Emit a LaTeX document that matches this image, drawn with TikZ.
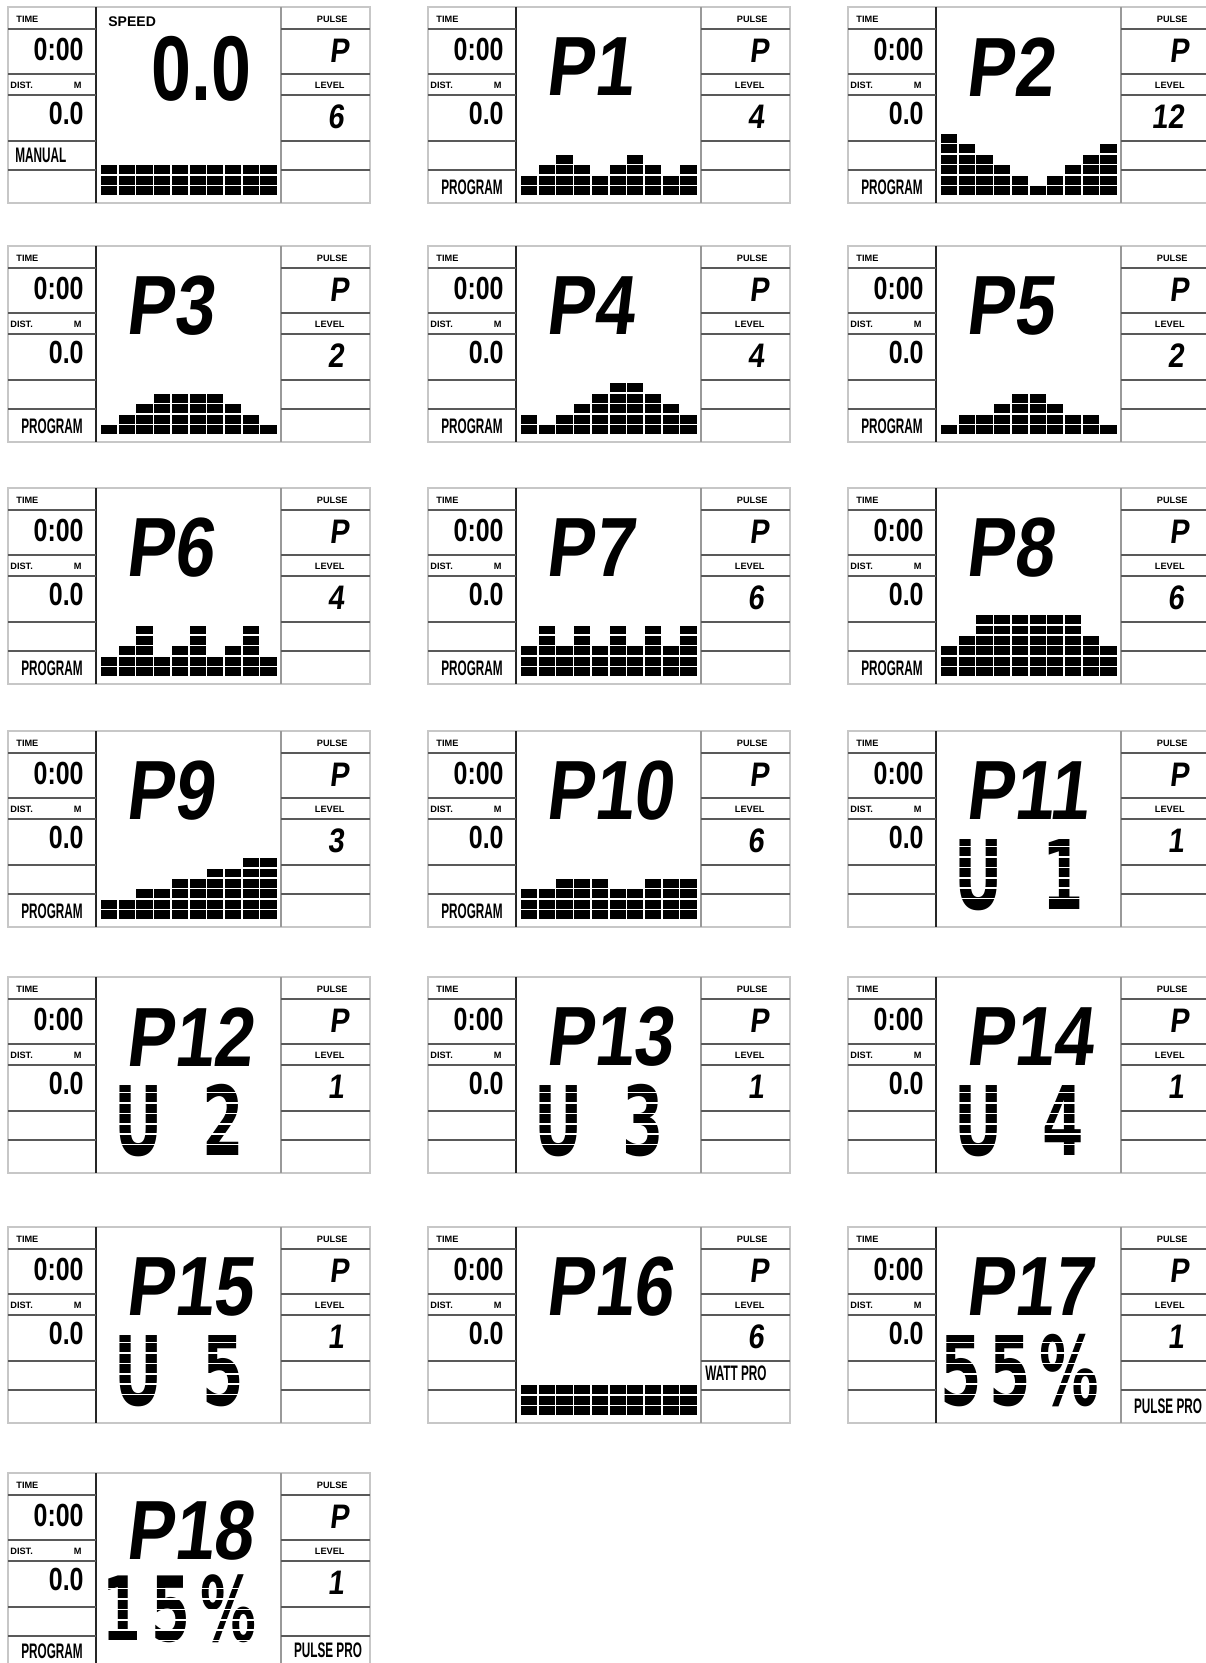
\documentclass[tikz,border=0pt]{standalone}
\usepackage{fontspec}
\usepackage{tikz}
\usetikzlibrary{positioning}

\newfontfamily\etiqfont{Liberation Sans}
\newfontfamily\segfont{Liberation Sans}[FakeStretch=0.78]
\newfontfamily\tagfont{Liberation Sans}[FakeStretch=0.56]
\newfontfamily\lcdfont{Liberation Sans}[FakeSlant=0.12, FakeStretch=0.85]
\newfontfamily\matfont{DejaVu Sans}[FakeStretch=0.62]

% un ecran : #1 nom, #2 x, #3 y, #4 niveau, #5 contenu du milieu
\newcommand{\ecran}[5]{%
  \begin{scope}[shift={(#2,#3)}]
    \draw[cadre] (0,0) rectangle (362,196);
    \draw[sepnoir] (88,0) -- (88,196);
    \draw[sepgris] (273,0) -- (273,196);
    \foreach \h in {22,67,88,134,163}
      \draw[trait] (0,\h) -- (88,\h) (273,\h) -- (362,\h);
    \node[petit, anchor=west] (#1-time) at (8,12) {TIME};
    \node[chiffre, anchor=east] (#1-temps) at (76,42) {0:00};
    \node[petit, anchor=west] (#1-dist) at (2,78) {DIST.};
    \node[petit, anchor=east] (#1-m) at (74,78) {M};
    \node[chiffre, anchor=east] (#1-km) at (76,106) {0.0};
    \node[petit, anchor=east] (#1-pulse) at (340,12) {PULSE};
    \node[lcdpetit, anchor=east] (#1-p) at (341,44) {P};
    \node[petit, anchor=east] (#1-level) at (337,78) {LEVEL};
    \node[lcdpetit, anchor=east] (#1-niveau) at (336,110) {#4};
    #5
  \end{scope}}

% barres du profil, une colonne par valeur
\newcommand{\barres}[1]{%
  \foreach \h [count=\i] in {#1}
    \foreach \j in {1,...,\h}
      \fill[bloc] ({93+(\i-1)*17.7},{188-(\j-1)*10.4}) rectangle ++(16.2,-8.9);}

% lignes blanches de la matrice sur les gros caracteres
\newcommand{\bandes}{%
  \foreach \k in {1,...,6}
    \draw[bande] (92,{178-\k*10.4}) -- (270,{178-\k*10.4});}

\begin{document}
\begin{tikzpicture}[x=0.5pt, y=-0.5pt,
    cadre/.style={draw=black!22, line width=1.2pt},
    sepnoir/.style={draw=black!85, line width=0.8pt},
    sepgris/.style={draw=black!40, line width=0.8pt},
    trait/.style={draw=black!65, line width=0.8pt},
    bloc/.style={fill=black},
    bande/.style={draw=white, line width=0.8pt},
    petit/.style={font=\etiqfont\bfseries\fontsize{4.6}{5}\selectfont, inner sep=0},
    chiffre/.style={font=\segfont\bfseries\fontsize{16}{16}\selectfont, inner sep=0},
    lcd/.style={font=\lcdfont\bfseries\fontsize{42}{42}\selectfont, inner sep=0, anchor=west},
    lcdpetit/.style={font=\lcdfont\bfseries\fontsize{17}{17}\selectfont, inner sep=0},
    mention/.style={font=\tagfont\bfseries\fontsize{10.5}{11}\selectfont, inner sep=0},
    matrice/.style={font=\matfont\bfseries\fontsize{48}{48}\selectfont, inner sep=0, anchor=base west}]
  \useasboundingbox (0,0) rectangle (1205,1663);

  % Rangee 1
  \ecran{man}{8}{7}{6}{%
    \node[petit, font=\etiqfont\bfseries\fontsize{7}{7}\selectfont, anchor=west] (man-speed) at (100,15) {SPEED};
    \node[chiffre, font=\segfont\bfseries\fontsize{46}{46}\selectfont, anchor=east] (man-vitesse) at (244,62) {0.0};
    \node[mention, anchor=west] (man-mode) at (7,148) {MANUAL};
    \barres{3,3,3,3,3,3,3,3,3,3}}
  \ecran{p1}{428}{7}{4}{%
    \node[lcd] (p1-prog) at (117,60) {P1};
    \node[mention] (p1-mode) at (44,180) {PROGRAM};
    \barres{2,3,4,3,2,3,4,3,2,3}}
  \ecran{p2}{848}{7}{12}{%
    \node[lcd] (p2-prog) at (117,60) {P2};
    \node[mention] (p2-mode) at (44,180) {PROGRAM};
    \barres{6,5,4,3,2,1,2,3,4,5}}

  % Rangee 2
  \ecran{p3}{8}{246}{2}{%
    \node[lcd] (p3-prog) at (117,60) {P3};
    \node[mention] (p3-mode) at (44,180) {PROGRAM};
    \barres{1,2,3,4,4,4,4,3,2,1}}
  \ecran{p4}{428}{246}{4}{%
    \node[lcd] (p4-prog) at (117,60) {P4};
    \node[mention] (p4-mode) at (44,180) {PROGRAM};
    \barres{2,1,2,3,4,5,5,4,3,2}}
  \ecran{p5}{848}{246}{2}{%
    \node[lcd] (p5-prog) at (117,60) {P5};
    \node[mention] (p5-mode) at (44,180) {PROGRAM};
    \barres{1,2,2,3,4,4,3,2,2,1}}

  % Rangee 3
  \ecran{p6}{8}{488}{4}{%
    \node[lcd] (p6-prog) at (117,60) {P6};
    \node[mention] (p6-mode) at (44,180) {PROGRAM};
    \barres{2,3,5,2,3,5,2,3,5,2}}
  \ecran{p7}{428}{488}{6}{%
    \node[lcd] (p7-prog) at (117,60) {P7};
    \node[mention] (p7-mode) at (44,180) {PROGRAM};
    \barres{3,5,3,5,3,5,3,5,3,5}}
  \ecran{p8}{848}{488}{6}{%
    \node[lcd] (p8-prog) at (117,60) {P8};
    \node[mention] (p8-mode) at (44,180) {PROGRAM};
    \barres{3,4,6,6,6,6,6,6,4,3}}

  % Rangee 4
  \ecran{p9}{8}{731}{3}{%
    \node[lcd] (p9-prog) at (117,60) {P9};
    \node[mention] (p9-mode) at (44,180) {PROGRAM};
    \barres{2,2,3,3,4,4,5,5,6,6}}
  \ecran{p10}{428}{731}{6}{%
    \node[lcd] (p10-prog) at (117,60) {P10};
    \node[mention] (p10-mode) at (44,180) {PROGRAM};
    \barres{3,3,4,4,4,3,3,4,4,4}}
  \ecran{p11}{848}{731}{1}{%
    \node[lcd] (p11-prog) at (117,60) {P11};
    \node[matrice] (p11-u) at (106,178) {U\kern20pt 1};
    \bandes}

  % Rangee 5
  \ecran{p12}{8}{977}{1}{%
    \node[lcd] (p12-prog) at (117,60) {P12};
    \node[matrice] (p12-u) at (106,178) {U\kern20pt 2};
    \bandes}
  \ecran{p13}{428}{977}{1}{%
    \node[lcd] (p13-prog) at (117,60) {P13};
    \node[matrice] (p13-u) at (106,178) {U\kern20pt 3};
    \bandes}
  \ecran{p14}{848}{977}{1}{%
    \node[lcd] (p14-prog) at (117,60) {P14};
    \node[matrice] (p14-u) at (106,178) {U\kern20pt 4};
    \bandes}

  % Rangee 6
  \ecran{p15}{8}{1227}{1}{%
    \node[lcd] (p15-prog) at (117,60) {P15};
    \node[matrice] (p15-u) at (106,178) {U\kern20pt 5};
    \bandes}
  \ecran{p16}{428}{1227}{6}{%
    \node[lcd] (p16-prog) at (117,60) {P16};
    \node[mention] (p16-mode) at (308,146) {WATT PRO};
    \barres{3,3,3,3,3,3,3,3,3,3}}
  \ecran{p17}{848}{1227}{1}{%
    \node[lcd] (p17-prog) at (117,60) {P17};
    \node[matrice] (p17-cible) at (92,178) {5\kern4pt 5\kern4pt\%};
    \bandes
    \node[mention] (p17-mode) at (320,179) {PULSE PRO};}

  % Rangee 7 (coupee en bas)
  \ecran{p18}{8}{1473}{1}{%
    \node[lcd] (p18-prog) at (117,58) {P18};
    \node[matrice, font=\matfont\bfseries\fontsize{45}{45}\selectfont] (p18-cible) at (94,168) {1\kern5pt 5\kern5pt\%};
    \bandes
    \node[mention] (p18-mode) at (44,178) {PROGRAM};
    \node[mention] (p18-pouls) at (320,177) {PULSE PRO};}
\end{tikzpicture}
\end{document}
